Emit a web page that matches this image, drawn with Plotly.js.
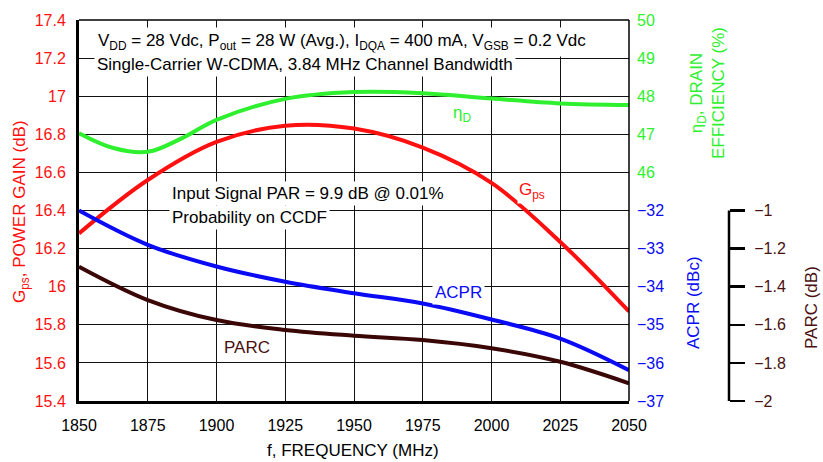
<!DOCTYPE html>
<html><head><meta charset="utf-8">
<script src="https://cdn.plot.ly/plotly-3.0.1.min.js"></script>
<style>html,body{margin:0;padding:0;background:#fff;}#chart{width:823px;height:462px;}</style>
</head><body><div id="chart"></div>
<script>
const freq = [1850,1875,1900,1925,1950,1975,2000,2025,2050];
const gps  = [16.28,16.56,16.76,16.845,16.83,16.73,16.545,16.235,15.87];
const acpr = [-32.0,-32.9,-33.47,-33.87,-34.17,-34.44,-34.86,-35.36,-36.19];
const parc = [-1.295,-1.47,-1.575,-1.627,-1.657,-1.68,-1.723,-1.794,-1.907];
const effFreq = [1850,1862.5,1875,1887.5,1900,1925,1950,1975,2000,2025,2050];
const eff  = [47.03,46.64,46.54,46.9,47.38,47.93,48.11,48.08,47.94,47.81,47.77];

const xTicks = [1850,1875,1900,1925,1950,1975,2000,2025,2050];
const gpsTicks = [15.4,15.6,15.8,16,16.2,16.4,16.6,16.8,17,17.2,17.4];
const gpsTickText = ["15.4","15.6","15.8","16","16.2","16.4","16.6","16.8","17","17.2","17.4"];
const effTicks = [46,47,48,49,50];
const acprTicks = [-37,-36,-35,-34,-33,-32];
const acprTickText = ["−37","−36","−35","−34","−33","−32"];
const parcTicks = [-2,-1.8,-1.6,-1.4,-1.2,-1];
const parcTickText = ["−2","−1.8","−1.6","−1.4","−1.2","−1"];

const F = '"Liberation Sans", Arial, sans-serif';
const TS = 16, AS = 17;
const RED = '#ff1010', GREEN = '#2ef02e', BLUE = '#0a0af5', BROWN = '#3a0606', BROWNTXT = '#4a1010';

// pixel helpers: paper area x 79..763, plot area x 79..629, y 20..401
const L = 79, R = 60, W = 823 - L - R;
const px = v => (v - L) / W;
const py = v => (401 - v) / 381;
const XDOM = px(629);

const lineStyle = c => ({color: c, width: 4, shape: 'spline', smoothing: 1.0});
const traces = [
  {x: freq, y: gps, yaxis: 'y', mode: 'lines', line: lineStyle(RED), hoverinfo: 'skip'},
  {x: effFreq, y: eff, yaxis: 'y2', mode: 'lines', line: lineStyle(GREEN), hoverinfo: 'skip'},
  {x: freq, y: acpr, yaxis: 'y3', mode: 'lines', line: lineStyle(BLUE), hoverinfo: 'skip'},
  {x: freq, y: parc, yaxis: 'y4', mode: 'lines', line: lineStyle(BROWN), hoverinfo: 'skip'}
];

function ann(text, x, y, opts) {
  return Object.assign({text: text, x: x, y: y, xref: 'paper', yref: 'paper', showarrow: false,
    font: {family: F, size: AS, color: '#000'}, xanchor: 'left', yanchor: 'middle'}, opts || {});
}

const annotations = [
  ann('V<sub>DD</sub> = 28 Vdc, P<sub>out</sub> = 28 W (Avg.), I<sub>DQA</sub> = 400 mA, V<sub>GSB</sub> = 0.2 Vdc', px(94), py(42), {bgcolor: '#fff', borderpad: 3}),
  ann('Single‑Carrier W‑CDMA, 3.84 MHz Channel Bandwidth', px(94), py(64), {bgcolor: '#fff', borderpad: 2}),
  ann('Input Signal PAR = 9.9 dB @ 0.01%', px(169), py(193), {bgcolor: '#fff', borderpad: 2}),
  ann('Probability on CCDF', px(169), py(217), {bgcolor: '#fff', borderpad: 2}),
  ann('η<sub>D</sub>', px(451), py(114), {font: {family: F, size: AS, color: GREEN}, bgcolor: '#fff', borderpad: 1}),
  ann('G<sub>ps</sub>', px(517), py(191), {font: {family: F, size: AS, color: RED}, bgcolor: '#fff', borderpad: 1}),
  ann('ACPR', px(432), py(292), {font: {family: F, size: AS, color: BLUE}, bgcolor: '#fff', borderpad: 2}),
  ann('PARC', px(221), py(347), {font: {family: F, size: AS, color: BROWNTXT}, bgcolor: '#fff', borderpad: 2}),
  // axis titles
  ann('G<sub>ps</sub>, POWER GAIN (dB)', px(21), py(212), {textangle: -90, xanchor: 'center', font: {family: F, size: AS, color: RED}}),
  ann('η<sub>D</sub>, DRAIN<br>EFFICIENCY (%)', px(708), py(93), {textangle: -90, xanchor: 'center', font: {family: F, size: AS, color: GREEN}}),
  ann('ACPR (dBc)', px(693), py(303), {textangle: -90, xanchor: 'center', font: {family: F, size: AS, color: BLUE}}),
  ann('PARC (dB)', px(811), py(308), {textangle: -90, xanchor: 'center', font: {family: F, size: AS, color: BROWNTXT}}),
  ann('f, FREQUENCY (MHz)', px(353), py(451), {xanchor: 'center', font: {family: F, size: AS, color: '#000'}})
];

const layout = {
  width: 823, height: 462,
  margin: {l: L, r: R, t: 20, b: 61, pad: 0},
  paper_bgcolor: '#fff', plot_bgcolor: '#fff',
  showlegend: false,
  xaxis: {domain: [0, XDOM], range: [1850, 2050], tickvals: xTicks, ticktext: xTicks.map(String), showgrid: true, gridcolor: '#111', gridwidth: 1,
    zeroline: false, showline: true, linecolor: '#000', linewidth: 3, ticks: '', ticklabelstandoff: 8,
    tickfont: {family: F, size: TS, color: '#000'}, fixedrange: true},
  yaxis: {range: [15.4, 17.4], tickvals: gpsTicks, ticktext: gpsTickText, showgrid: true, gridcolor: '#111', gridwidth: 1,
    zeroline: false, showline: true, linecolor: '#000', linewidth: 3, ticks: '', ticklabelstandoff: 7,
    tickfont: {family: F, size: TS, color: RED}, fixedrange: true},
  yaxis2: {overlaying: 'y', side: 'right', anchor: 'x', range: [40, 50], tickvals: effTicks, ticktext: effTicks.map(String),
    showgrid: false, zeroline: false, showline: false, ticks: '', ticklabelstandoff: 7,
    tickfont: {family: F, size: TS, color: GREEN}, fixedrange: true},
  yaxis3: {overlaying: 'y', side: 'right', anchor: 'x', range: [-37, -27], tickvals: acprTicks, ticktext: acprTickText,
    showgrid: false, zeroline: false, showline: false, ticks: '', ticklabelstandoff: 7,
    tickfont: {family: F, size: TS, color: BLUE}, fixedrange: true},
  yaxis4: {overlaying: 'y', anchor: 'free', position: px(729), side: 'right', range: [-2, 0], tickvals: parcTicks, ticktext: parcTickText,
    showgrid: false, zeroline: false, showline: false, ticks: 'outside', ticklen: 15, tickwidth: 2.5, tickcolor: '#000', ticklabelstandoff: 6,
    tickfont: {family: F, size: TS, color: BROWNTXT}, fixedrange: true},
  shapes: [
    {type: 'line', xref: 'paper', yref: 'paper', x0: 0, x1: XDOM, y0: 1, y1: 1, line: {color: '#000', width: 1.5}},
    {type: 'line', xref: 'paper', yref: 'paper', x0: XDOM, x1: XDOM, y0: 0, y1: 1, line: {color: '#000', width: 1.5}},
    {type: 'line', xref: 'paper', yref: 'y4', x0: px(729), x1: px(729), y0: -2, y1: -1, line: {color: '#000', width: 2.5}}
  ],
  annotations: annotations
};

Plotly.newPlot('chart', traces, layout, {displayModeBar: false, staticPlot: true});
</script>
</body></html>
